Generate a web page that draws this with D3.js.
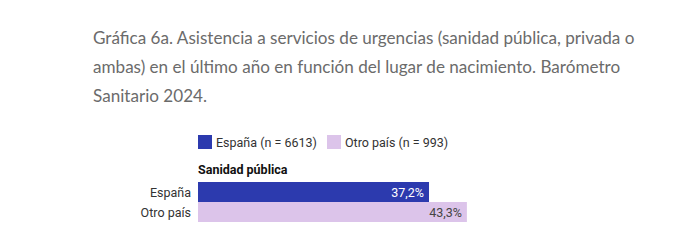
<!DOCTYPE html>
<meta charset="utf-8">
<title>Gráfica 6a</title>
<style>
body { margin: 0; background: #fff; }
.title { font-family: Lato, "Open Sans", sans-serif; fill: #6b6b6b; font-size: 17.1px; }
.lbl { font-family: Roboto, sans-serif; font-size: 12.5px; fill: #333; }
</style>
<body>
<script src="https://d3js.org/d3.v7.min.js"></script>
<script>

var width = 679,
    height = 247;

var titleLines = [
  "Gráfica 6a. Asistencia a servicios de urgencias (sanidad pública, privada o",
  "ambas) en el último año en función del lugar de nacimiento. Barómetro",
  "Sanitario 2024."
];

var panel = "Sanidad pública";
var categories = ["España", "Otro país"];
var legendLabels = ["España (n = 6613)", "Otro país (n = 993)"];
var values = [37.2, 43.3];
var colors = ["#2c3aae", "#dcc4ea"];
var textColors = ["#fff", "#444"];

var svg = d3.select("body").append("svg")
    .attr("width", width)
    .attr("height", height);

// title
svg.selectAll(".title")
  .data(titleLines)
  .enter().append("text")
    .attr("class", "title")
    .attr("x", 93)
    .attr("y", function(d, i) { return 44 + i * 29; })
    .text(function(d) { return d; });

// legend
var legendX = [198, 327];
var leg = svg.selectAll(".leg")
  .data(legendLabels)
  .enter().append("g")
    .attr("class", "leg")
    .attr("transform", function(d, i) { return "translate(" + legendX[i] + ",135)"; });

leg.append("rect")
  .attr("width", 14)
  .attr("height", 14)
  .attr("fill", function(d, i) { return colors[i]; });

leg.append("text")
  .attr("class", "lbl")
  .attr("x", 18)
  .attr("y", 11.5)
  .text(function(d) { return d; });

svg.append("text")
  .attr("class", "lbl")
  .attr("x", 198)
  .attr("y", 174)
  .style("font-weight", "bold")
  .style("fill", "#111")
  .text(panel);

var x = d3.scaleLinear().domain([0, 100]).range([198, 198 + 621]);
var y = d3.scaleBand().domain(categories).range([182, 222]).padding(0);

svg.selectAll(".bar")
  .data(values)
  .enter().append("rect")
    .attr("class", "bar")
    .attr("x", x(0))
    .attr("y", function(d, i) { return y(categories[i]); })
    .attr("width", function(d) { return x(d) - x(0); })
    .attr("height", y.bandwidth())
    .attr("fill", function(d, i) { return colors[i]; });

svg.selectAll(".val")
  .data(values)
  .enter().append("text")
    .attr("class", "lbl")
    .attr("x", function(d) { return x(d) - 5; })
    .attr("y", function(d, i) { return y(categories[i]) + y.bandwidth() / 2 + 4.5; })
    .attr("text-anchor", "end")
    .style("fill", function(d, i) { return textColors[i]; })
    .text(function(d) { return d.toFixed(1).replace(".", ",") + "%"; });

svg.selectAll(".cat")
  .data(categories)
  .enter().append("text")
    .attr("class", "lbl")
    .attr("x", 191)
    .attr("y", function(d) { return y(d) + y.bandwidth() / 2 + 4.5; })
    .attr("text-anchor", "end")
    .text(function(d) { return d; });

</script>
</body>
</html>
